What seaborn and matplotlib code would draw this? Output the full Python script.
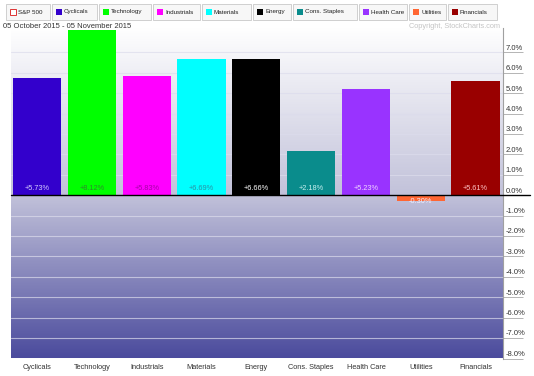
import numpy as np
import pandas as pd
import matplotlib
matplotlib.use("Agg")
import matplotlib.pyplot as plt
from matplotlib.colors import LinearSegmentedColormap
from matplotlib.patches import Rectangle
import seaborn as sns

# 섹터별 1개월 수익률 (%)
categories = ['Cyclicals', 'Technology', 'Industrials', 'Materials', 'Energy',
              'Cons. Staples', 'Health Care', 'Utilities', 'Financials']
values = [5.73, 8.12, 5.83, 6.69, 6.66, 2.18, 5.23, -0.30, 5.61]
bar_colors = ['#3300cc', '#00ff00', '#ff00ff', '#00ffff', '#000000',
              '#0a8c8c', '#9933ff', '#ff6633', '#990000']
text_colors = ['#d4ccff', '#2e8a2e', '#a800a8', '#2a90a4', '#ffffff',
               '#c8f0f0', '#f0d4ff', '#f0f0ff', '#ffc4c4']
ytick_vals = list(range(-8, 8))

legend_labels = ['S&P 500'] + categories
legend_colors = ['#dd3333'] + bar_colors
# 범례 박스 위치 (px, 왼쪽 x / 오른쪽 x)
legend_boxes = [(6, 50), (52, 97), (99, 151), (153, 200), (202, 251),
                (253, 291), (293, 357), (359, 407), (409, 446), (448, 497)]

sns.set_theme(style='white')
plt.rcParams['font.family'] = ['Liberation Sans', 'DejaVu Sans']

W, H = 534, 376
fig = plt.figure(figsize=(W / 100, H / 100), dpi=100)
ax = fig.add_axes([10.7 / W, 1 - 358.5 / H, (503 - 10.7) / W, (358.5 - 28) / H])

ymin, ymax = -8.0, 8.2
xmin, xmax = -0.48, 8.5

# 배경 그라데이션
cmap = LinearSegmentedColormap.from_list(
    'bg', [(0, '#4b4b9d'), ((0 - ymin) / (ymax - ymin), '#c2c2da'), (1, '#ffffff')])
grad = np.linspace(0, 1, 256).reshape(-1, 1)
ax.imshow(grad, extent=[xmin, xmax, ymin, ymax], aspect='auto', cmap=cmap,
          origin='lower', zorder=0)

df = pd.DataFrame({'sector': categories, 'ret': values})
sns.barplot(data=df, x='sector', y='ret', hue='sector', palette=bar_colors,
            legend=False, width=0.88, saturation=1, ax=ax, zorder=2,
            edgecolor='none', linewidth=0)

ax.set_xlim(xmin, xmax)
ax.set_ylim(ymin, ymax)
ax.set_xlabel('')
ax.set_ylabel('')

# 그리드 / 축
ax.set_yticks(ytick_vals)
ax.yaxis.set_ticks_position('right')
ax.tick_params(axis='y', right=True, left=False, labelright=False, labelleft=False,
               length=14.5, width=0.7, color='#b4b4b4', direction='out')
ax.grid(axis='y', color='#dcdcec', alpha=0.7, lw=0.8, zorder=1)
ax.grid(axis='x', visible=False)
for s in ['left', 'top', 'bottom']:
    ax.spines[s].set_visible(False)
ax.spines['right'].set_color('#a0a0a0')
ax.spines['right'].set_linewidth(0.8)

for v in ytick_vals:
    ax.annotate(f'{v:.1f}%', xy=(1.0, v), xycoords=ax.get_yaxis_transform(),
                xytext=(2, 3), textcoords='offset points', fontsize=5.5,
                color='#333333', ha='left', va='center', annotation_clip=False)

ax.axhline(0, color='black', lw=1, xmax=1.055, clip_on=False, zorder=3)

ax.tick_params(axis='x', length=0, pad=4, labelsize=5.3, labelcolor='#333333')

# 막대 값 라벨
for i, (v, c) in enumerate(zip(values, text_colors)):
    if v >= 0:
        ax.annotate(f'{v:+.2f}%', xy=(i, 0), xytext=(0, 2.5), textcoords='offset points',
                    ha='center', va='bottom', fontsize=5.3, color=c, zorder=4)
    else:
        ax.annotate(f'{v:+.2f}%', xy=(i, 0), xytext=(0, -2), textcoords='offset points',
                    ha='center', va='top', fontsize=5.3, color=c, zorder=4)

# 상단 범례
for (x0, x1), lab, col in zip(legend_boxes, legend_labels, legend_colors):
    fig.add_artist(Rectangle((x0 / W, 1 - 20 / H), (x1 - x0) / W, 16 / H,
                             transform=fig.transFigure, facecolor='#f7f7f7',
                             edgecolor='#c8c8c8', lw=0.6))
    if lab == 'S&P 500':
        fig.add_artist(Rectangle(((x0 + 4) / W, 1 - 15 / H), 6 / W, 6 / H,
                                 transform=fig.transFigure, facecolor='white',
                                 edgecolor=col, lw=0.7))
    else:
        fig.add_artist(Rectangle(((x0 + 4) / W, 1 - 15 / H), 6 / W, 6 / H,
                                 transform=fig.transFigure, facecolor=col,
                                 edgecolor='none'))
    fig.text((x0 + 12) / W, 1 - 12 / H, lab, fontsize=4.5, color='#222222',
             ha='left', va='center')

fig.text(3 / W, 1 - 26 / H, '05 October 2015 - 05 November 2015', fontsize=5.5,
         color='#333333', ha='left', va='center')
fig.text(500 / W, 1 - 26 / H, 'Copyright, StockCharts.com', fontsize=5.3,
         color='#c4c4c4', ha='right', va='center')

fig.savefig('out.png', dpi=100, facecolor='white')
